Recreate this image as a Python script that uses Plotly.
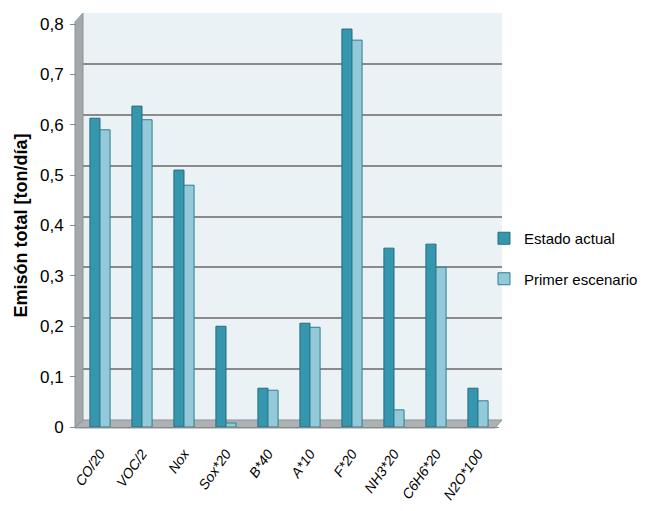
import plotly.graph_objects as go

categories = ["CO/20", "VOC/2", "Nox", "Sox*20", "B*40", "A*10", "F*20", "NH3*20", "C6H6*20", "N2O*100"]
estado_actual = [0.613, 0.637, 0.51, 0.20, 0.077, 0.206, 0.79, 0.355, 0.363, 0.077]
primer_escenario = [0.59, 0.61, 0.48, 0.008, 0.073, 0.198, 0.768, 0.034, 0.317, 0.052]
ytick_vals = [0, 0.1, 0.2, 0.3, 0.4, 0.5, 0.6, 0.7, 0.8]
ytick_text = ["0", "0,1", "0,2", "0,3", "0,4", "0,5", "0,6", "0,7", "0,8"]

# page has an 8px body margin; size the figure so it fits the 654x511 window
OFF = 8
W, H = 654 - OFF, 511 - OFF
def px(x): return (x - OFF) / W          # screen pixel -> paper fraction
def py(y): return (H - (y - OFF)) / H

FONT = "Liberation Sans, Arial, sans-serif"

fig = go.Figure()
# invisible trace to realise the back-wall (grid) subplot
fig.add_trace(go.Scatter(x=[0, 1], y=[0, 0.8], mode="markers", marker=dict(opacity=0),
                         hoverinfo="skip", showlegend=False, xaxis="x", yaxis="y"))
fig.add_trace(go.Bar(
    x=categories, y=estado_actual, name="Estado actual", legendgroup="a",
    marker=dict(color="#3596AE", line=dict(color="#236E80", width=1)),
    xaxis="x2", yaxis="y2"))
fig.add_trace(go.Bar(
    x=categories, y=primer_escenario, name="Primer escenario", legendgroup="b",
    marker=dict(color="#93C9D9", line=dict(color="#2F7F90", width=1)),
    xaxis="x2", yaxis="y2"))

def path(pts):
    return "M " + " L ".join(f"{px(a):.5f},{py(b):.5f}" for a, b in pts) + " Z"

shapes = [
    dict(type="rect", xref="paper", yref="paper", x0=px(83), x1=px(502), y0=py(420), y1=py(13),
         fillcolor="#EAF2F6", line=dict(width=0), layer="below"),
    dict(type="path", xref="paper", yref="paper",
         path=path([(75, 22), (83, 13), (83, 420), (75, 428)]),
         fillcolor="#A3A8AB", line=dict(color="#8E9396", width=1), layer="below"),
    dict(type="path", xref="paper", yref="paper",
         path=path([(75, 428), (83, 420), (502, 420), (495, 428)]),
         fillcolor="#ACB1B3", line=dict(color="#8E9396", width=1), layer="below"),
]

fig.update_layout(
    width=W, height=H,
    margin=dict(l=0, r=0, t=0, b=0, autoexpand=False),
    paper_bgcolor="white", plot_bgcolor="rgba(0,0,0,0)",
    font=dict(family=FONT, color="black"),
    barmode="group", bargap=0.52, bargroupgap=0.0,
    shapes=shapes,
    xaxis=dict(domain=[px(83), px(502)], anchor="y", range=[0, 1], showticklabels=False,
               showgrid=False, zeroline=False, showline=False, ticks=""),
    yaxis=dict(domain=[py(420), py(13)], anchor="x", range=[0, 0.8], tickvals=ytick_vals,
               showticklabels=False, ticks="", showgrid=True, gridcolor="#8A8A8A",
               gridwidth=2, zeroline=False, showline=False),
    xaxis2=dict(domain=[px(79), px(499)], anchor="y2", showgrid=False, zeroline=False,
                showline=True, linecolor="#888888", linewidth=1,
                tickvals=categories, ticktext=[f"<i>{c}</i>" for c in categories],
                tickangle=-55, tickfont=dict(size=14), ticks="", ticklabelstandoff=12),
    yaxis2=dict(domain=[py(427), py(24)], anchor="free", position=px(76), range=[0, 0.8],
                tickvals=ytick_vals, ticktext=ytick_text, tickfont=dict(size=17),
                showgrid=False, zeroline=False, showline=False,
                ticks="outside", ticklen=6, tickcolor="#888888", ticklabelstandoff=3,
                title=dict(text="<b>Emisón total [ton/día]</b>", font=dict(size=18), standoff=6)),
    legend=dict(x=px(484), y=py(222), xanchor="left", yanchor="top",
                font=dict(size=15), traceorder="grouped", tracegroupgap=18, itemwidth=30,
                bgcolor="rgba(0,0,0,0)"),
    showlegend=True,
)

fig.write_html("out.html")
